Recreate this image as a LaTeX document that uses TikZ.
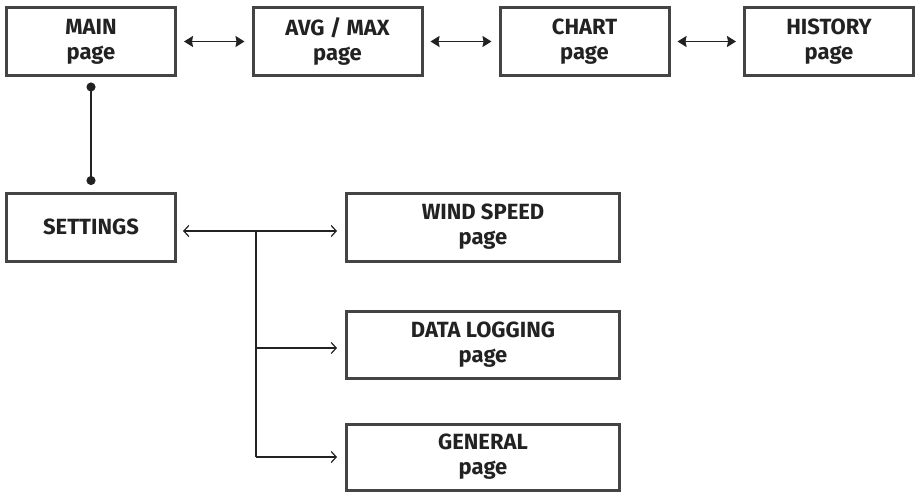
\documentclass[tikz,border=0pt]{standalone}
\usepackage{fontspec}
\setmainfont{Fira Sans}
\usetikzlibrary{arrows.meta}
\definecolor{boxline}{HTML}{444444}
\definecolor{ink}{HTML}{222222}
\begin{document}
\begin{tikzpicture}[x=1pt,y=1pt,
  pagebox/.style={draw=boxline, line width=3pt, minimum width=169pt, minimum height=68pt,
    inner sep=0pt, align=center, text=ink, font=\fontsize{22}{25}\selectfont\bfseries},
  navarrow/.style={draw=ink, line width=1.5pt, {Stealth[length=9pt,width=11pt,inset=1pt]}-{Stealth[length=9pt,width=11pt,inset=1pt]}, shorten <=7pt, shorten >=7pt},
  dotline/.style={draw=ink, line width=1.5pt, {Circle[length=9pt]}-{Circle[length=9pt]}, shorten <=5.5pt, shorten >=6.5pt},
  subarrow/.style={draw=ink, line width=1.2pt, -{Straight Barb[length=5pt,width=11pt]}},
  subline/.style={draw=ink, line width=1.2pt}]
\useasboundingbox (0,0) rectangle (917,-492);
\node[pagebox] (main) at (91,-41.5) {MAIN\\page};
\node[pagebox] (avg) at (337.5,-41.5) {AVG / MAX\\page};
\node[pagebox] (chart) at (584.5,-41.5) {CHART\\page};
\node[pagebox] (hist) at (829,-41.5) {HISTORY\\page};
\node[pagebox] (set) at (91,-227) {SETTINGS};
\node[pagebox, minimum width=273pt] (wind) at (483,-227) {WIND SPEED\\page};
\node[pagebox, minimum width=273pt, minimum height=67pt] (data) at (483,-344.5) {DATA LOGGING\\page};
\node[pagebox, minimum width=273pt, minimum height=66pt] (gen) at (483,-457) {GENERAL\\page};
\draw[navarrow] (main) -- (avg);
\draw[navarrow] (avg) -- (chart);
\draw[navarrow] (chart) -- (hist);
\draw[dotline] (main.south) -- (set.north);
\coordinate (j) at (256,-231);
\coordinate (jd) at (256,-348);
\coordinate (jg) at (256,-457);
\draw[subline, {Straight Barb[length=5pt,width=11pt]}-{Straight Barb[length=5pt,width=11pt]}, shorten <=6pt, shorten >=8pt] (set.east |- j) -- (wind.west |- j);
\draw[subline] (j) -- (jg);
\draw[subarrow, shorten >=8pt] (jd) -- (data.west |- jd);
\draw[subarrow, shorten >=8pt] (jg) -- (gen.west |- jg);
\end{tikzpicture}
\end{document}
